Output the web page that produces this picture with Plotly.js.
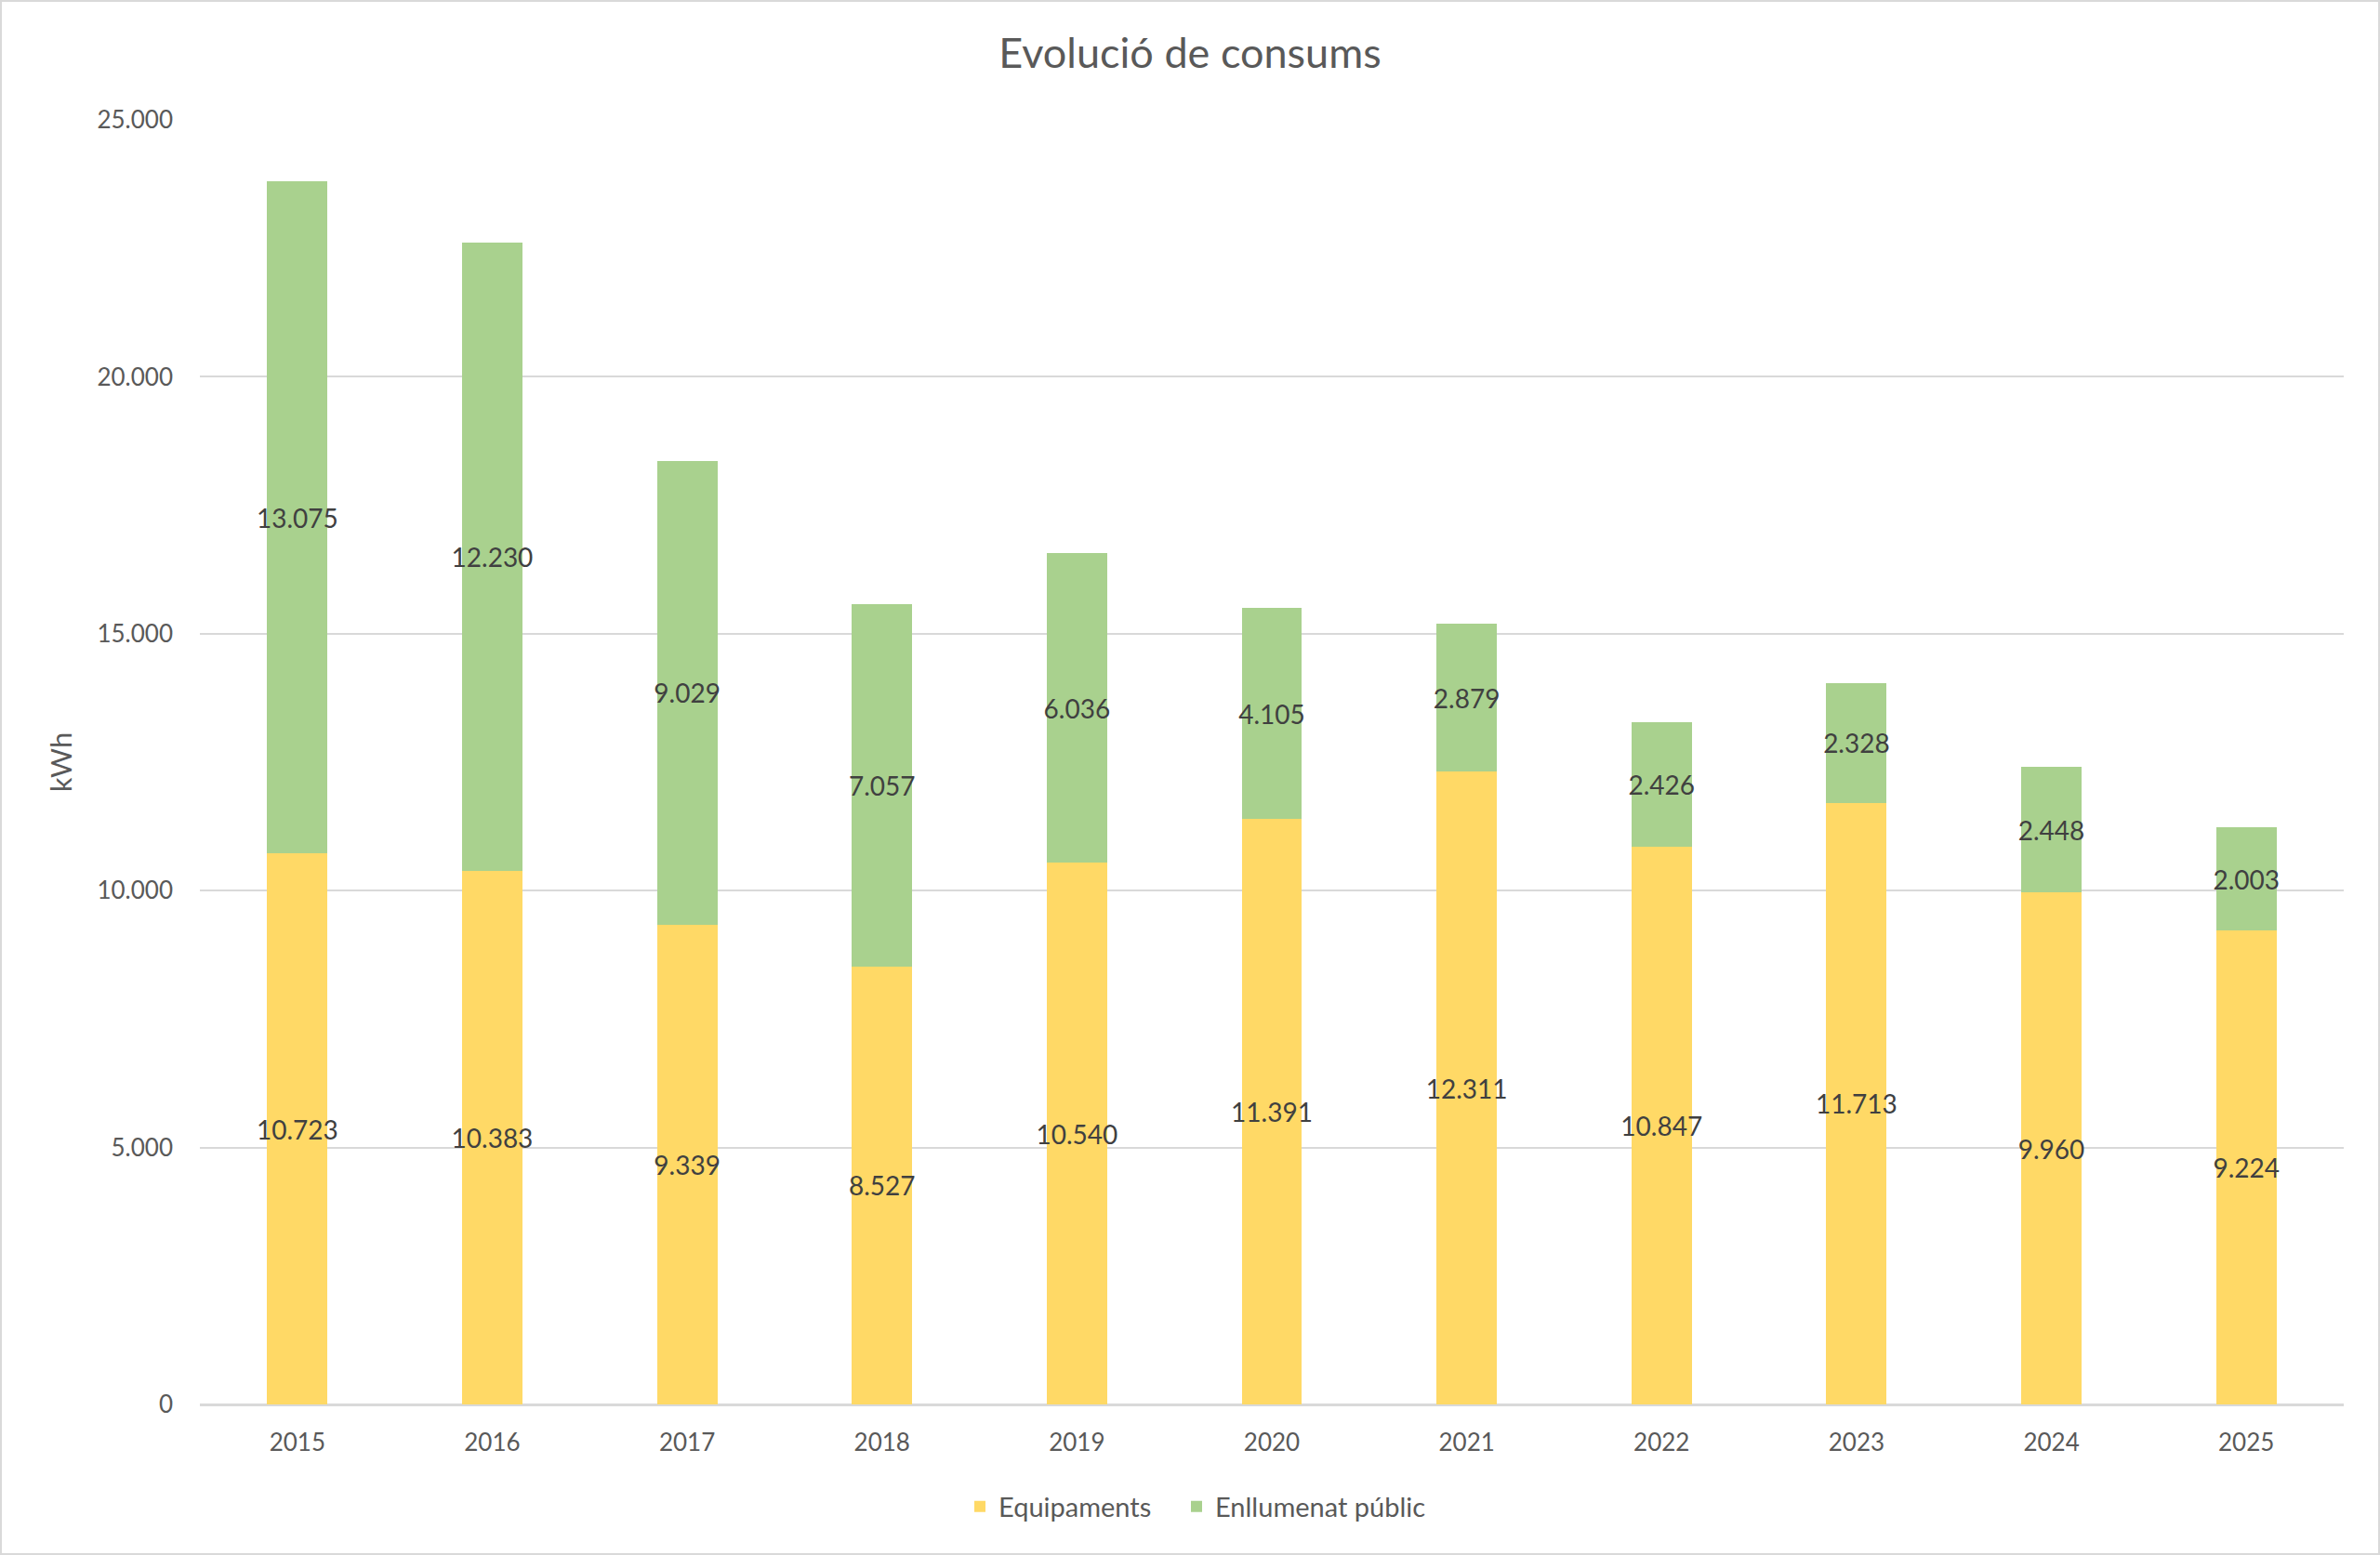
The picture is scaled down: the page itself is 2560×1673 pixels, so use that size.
<!DOCTYPE html>
<html>
<head>
<meta charset="utf-8">
<script src="https://cdn.plot.ly/plotly-3.0.1.min.js"></script>
<style>
  html, body { margin: 0; padding: 0; background: #ffffff; }
  #wrap { position: relative; width: 2560px; height: 1673px; }
  #chart { width: 2560px; height: 1673px; }
  #frame { position: absolute; left: 0; top: 0; width: 2560px; height: 1673px; box-sizing: border-box; border: 2px solid #D9D9D9; pointer-events: none; }
</style>
</head>
<body>
<div id="wrap">
  <div id="chart"></div>
  <div id="frame"></div>
</div>
<script>
const years = ['2015','2016','2017','2018','2019','2020','2021','2022','2023','2024','2025'];
const equipaments = [10723, 10383, 9339, 8527, 10540, 11391, 12311, 10847, 11713, 9960, 9224];
const enllumenat = [13075, 12230, 9029, 7057, 6036, 4105, 2879, 2426, 2328, 2448, 2003];
const yTicks = [0, 5000, 10000, 15000, 20000, 25000];
const seriesNames = ['Equipaments', 'Enllumenat públic'];

const fontFamily = 'Lato, "Open Sans", "Noto Sans", sans-serif';
const labelFont = { family: fontFamily, size: 28, color: '#404040' };

function barTrace(name, values, color, legendId) {
  return {
    type: 'bar',
    name: name,
    legend: legendId,
    x: years,
    y: values,
    marker: { color: color, line: { width: 0 } },
    text: values,
    texttemplate: '%{y:,.0f}',
    textposition: 'inside',
    insidetextanchor: 'middle',
    textangle: 0,
    constraintext: 'none',
    textfont: labelFont,
    insidetextfont: labelFont,
    hoverinfo: 'x+y+name'
  };
}

const data = [
  barTrace(seriesNames[0], equipaments, '#FFD966', 'legend'),
  barTrace(seriesNames[1], enllumenat, '#A9D18E', 'legend2')
];

function legendAt(xFrac) {
  return {
    orientation: 'h',
    xref: 'container',
    x: xFrac, xanchor: 'left',
    yref: 'container',
    y: 1 - 1621 / 1673, yanchor: 'middle',
    font: { family: fontFamily, size: 29, color: '#595959' },
    itemwidth: 30,
    bgcolor: 'rgba(0,0,0,0)'
  };
}

const layout = {
  width: 2560,
  height: 1673,
  paper_bgcolor: '#ffffff',
  plot_bgcolor: '#ffffff',
  separators: ',.',
  barmode: 'stack',
  bargap: 0.69,
  margin: { l: 215, r: 39, t: 129, b: 162, pad: 0 },
  font: { family: fontFamily, color: '#595959', size: 26 },
  title: {
    text: 'Evolució de consums',
    font: { family: fontFamily, size: 45, color: '#595959' },
    x: 0.5, xanchor: 'center',
    y: 1 - 57 / 1673, yanchor: 'middle', yref: 'container'
  },
  xaxis: {
    type: 'category',
    tickfont: { family: fontFamily, size: 26, color: '#595959' },
    ticks: '',
    showgrid: false,
    showline: true,
    linecolor: '#D9D9D9',
    linewidth: 2,
    ticklabelstandoff: 17,
    fixedrange: true
  },
  yaxis: {
    range: [0, 25000],
    tickvals: yTicks,
    tickformat: ',.0f',
    tickfont: { family: fontFamily, size: 26, color: '#595959' },
    ticks: '',
    showgrid: true,
    gridcolor: '#D9D9D9',
    gridwidth: 2,
    zeroline: true,
    zerolinecolor: '#D9D9D9',
    zerolinewidth: 2,
    showline: false,
    ticklabelstandoff: 28,
    title: {
      text: 'kWh',
      font: { family: fontFamily, size: 31, color: '#595959' },
      standoff: 17
    },
    fixedrange: true
  },
  showlegend: true,
  legend: legendAt(1034 / 2560),
  legend2: legendAt(1267 / 2560),
  hovermode: 'closest'
};

Plotly.newPlot('chart', data, layout, { displayModeBar: false, responsive: false, staticPlot: false });
</script>
</body>
</html>
